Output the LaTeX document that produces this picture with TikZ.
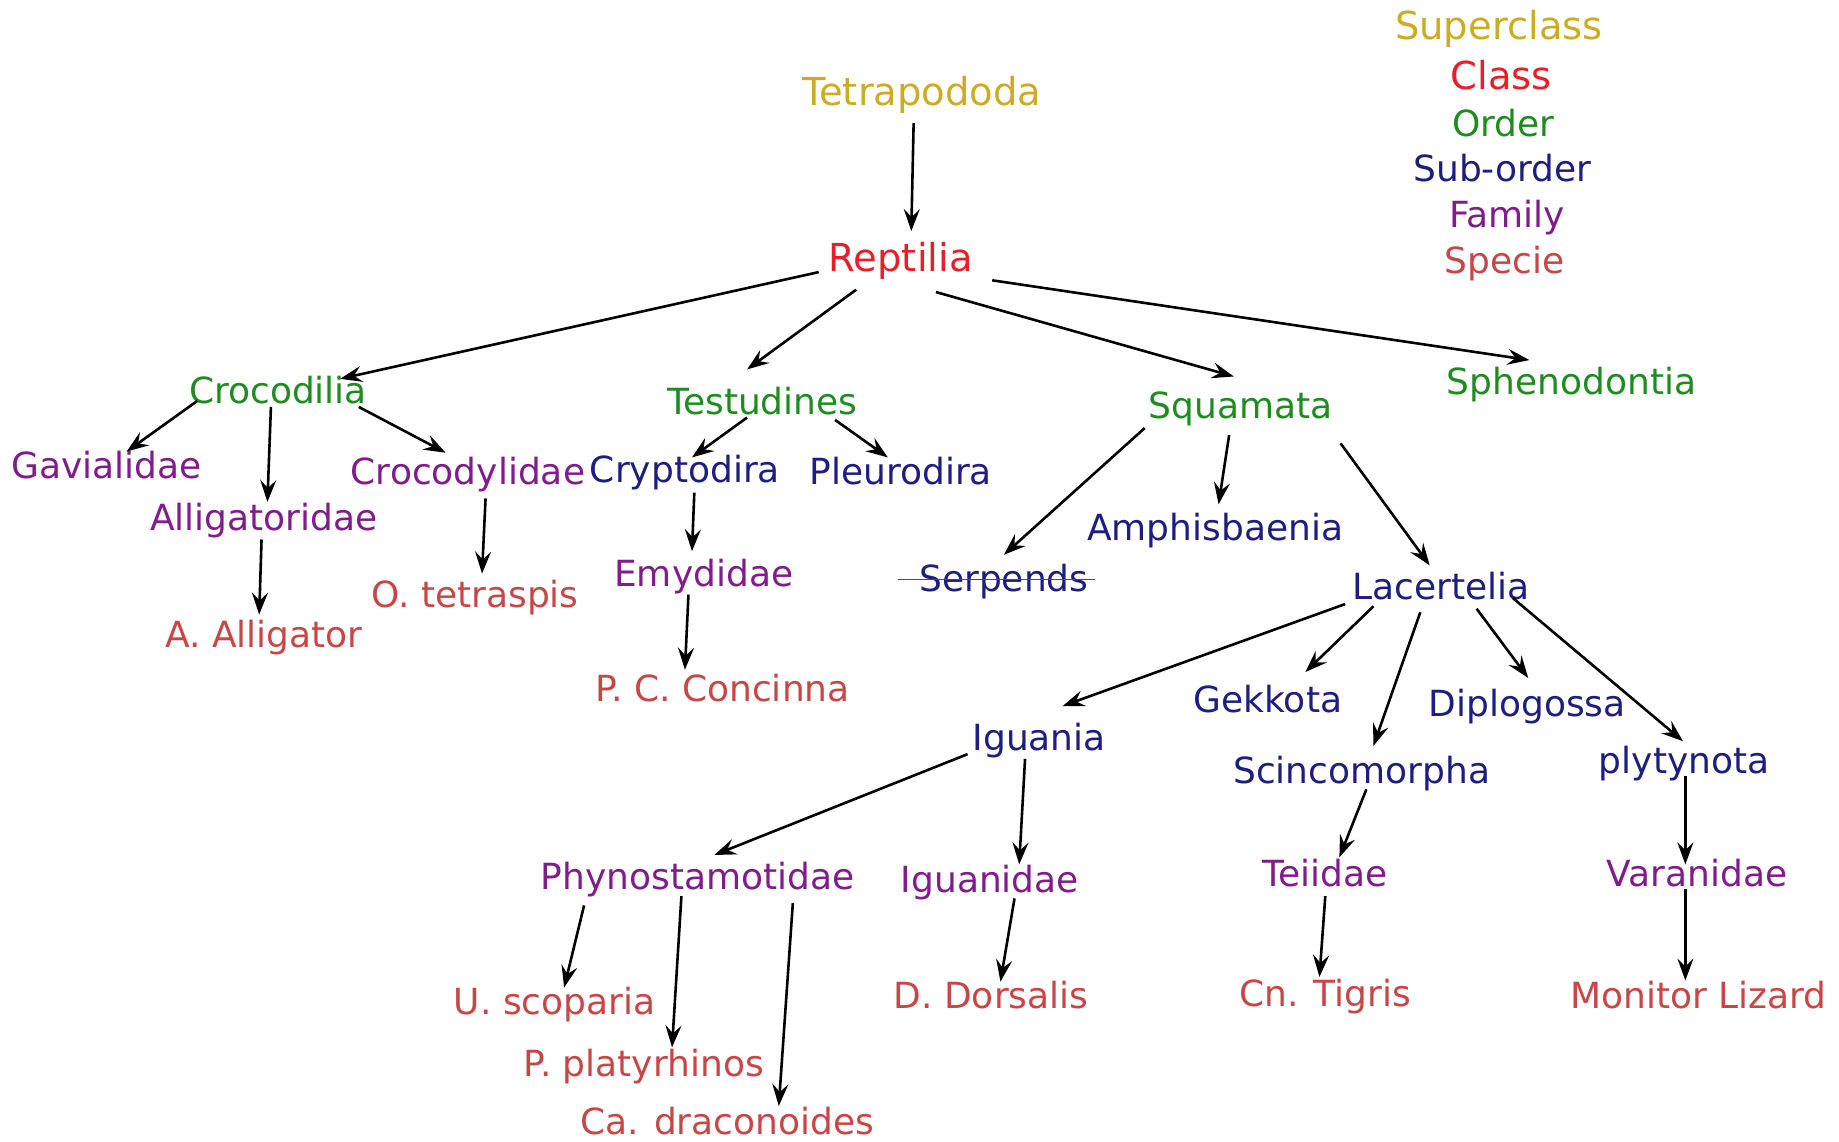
\documentclass[tikz,border=0pt]{standalone}
\usepackage{fontspec}
\setmainfont{DejaVu Sans}
\usetikzlibrary{arrows.meta,calc}
\definecolor{csuper}{RGB}{205,172,35}
\definecolor{cclass}{RGB}{232,30,40}
\definecolor{corder}{RGB}{30,140,30}
\definecolor{csub}{RGB}{30,30,130}
\definecolor{cfam}{RGB}{128,28,140}
\definecolor{cspec}{RGB}{200,70,70}
\tikzset{
  lbl/.style={inner sep=0pt, anchor=center, font=\fontsize{36pt}{40pt}\selectfont, text height=26pt, text depth=0pt},
  biglbl/.style={lbl, font=\fontsize{38.5pt}{42pt}\selectfont, text height=27.5pt},
  super/.style={biglbl, text=csuper},
  klass/.style={biglbl, text=cclass},
  ord/.style={lbl, text=corder},
  sub/.style={lbl, text=csub},
  fam/.style={lbl, text=cfam},
  spec/.style={lbl, text=cspec},
  arr/.style={-{Stealth[length=22pt,width=16pt,inset=8pt]}, line width=2.6pt, black},
}
\newcommand{\arrw}[6]{\draw[arr] ($(#1)+(#2,#3)$) -- ($(#4)+(#5,#6)$);}
\begin{document}
\begin{tikzpicture}[x=1.1728pt,y=-1.1728pt]
\useasboundingbox[fill=white] (0,0) rectangle (1568,973);
% legend
\node[super] (lsuper) at (1278,22) {Superclass};
\node[klass] (lclass) at (1280,65) {Class};
\node[ord]   (lorder) at (1282,105) {Order};
\node[sub]   (lsub)   at (1281,144) {Sub-order};
\node[fam]   (lfam)   at (1285,183) {Family};
\node[spec]  (lspec)  at (1283,222) {Specie};
% tree
\node[super] (tet) at (786,78) {Tetrapododa};
\node[klass] (rep) at (768,220) {Reptilia};
\node[ord] (cro) at (237,333) {Crocodilia};
\node[ord] (tes) at (650,342) {Testudines};
\node[ord] (squ) at (1058,346) {Squamata};
\node[ord] (sph) at (1340,325) {Sphenodontia};
\node[fam] (gav) at (91,397) {Gavialidae};
\node[fam] (all) at (225,441) {Alligatoridae};
\node[fam] (crd) at (399,402) {Crocodylidae};
\node[sub] (cry) at (584,400) {Cryptodira};
\node[sub] (ple) at (768,402) {Pleurodira};
\node[spec] (aal) at (225,541) {A. Alligator};
\node[spec] (ote) at (405,507) {O. tetraspis};
\node[fam] (emy) at (600,489) {Emydidae};
\node[spec] (pcc) at (616,587) {P. C. Concinna};
\node[sub] (ser) at (856,493) {Serpends};
\node[sub] (amp) at (1036,450) {Amphisbaenia};
\node[sub] (lac) at (1229,500) {Lacertelia};
\node[sub] (igu) at (886,629) {Iguania};
\node[sub] (gek) at (1081,596) {Gekkota};
\node[sub] (sci) at (1161,657) {Scincomorpha};
\node[sub] (dip) at (1302,600) {Diplogossa};
\node[sub] (ply) at (1436,648) {plytynota};
\node[fam] (phy) at (595,747) {Phynostamotidae};
\node[fam] (igd) at (844,750) {Iguanidae};
\node[fam] (tei) at (1130,745) {Teiidae};
\node[fam] (var) at (1447,745) {Varanidae};
\node[spec] (usc) at (473,854) {U. scoparia};
\node[spec] (ppl) at (549,907) {P. platyrhinos};
\node[spec] (cad) at (620,956) {Ca. draconoides};
\node[spec] (ddo) at (845,849) {D. Dorsalis};
\node[spec] (cnt) at (1130,847) {Cn. Tigris};
\node[spec] (mon) at (1448,849) {Monitor Lizard};
% strike line through Serpends
\draw[line width=1.2pt, black!70] ($(ser)+(-90,1)$) -- ($(ser)+(78,1)$);
% arrows
\arrw{tet}{-7}{27}{rep}{9}{-23}
\arrw{rep}{-70}{12}{cro}{53}{-10}
\arrw{rep}{-38}{27}{tes}{-13}{-27}
\arrw{rep}{30}{29}{squ}{-6}{-25}
\arrw{rep}{78}{19}{sph}{-36}{-18}
\arrw{cro}{-69}{9}{gav}{17}{-12}
\arrw{cro}{-6}{14}{all}{3}{-13}
\arrw{cro}{69}{14}{crd}{-19}{-16}
\arrw{all}{-2}{19}{aal}{-4}{-17}
\arrw{crd}{15}{23}{ote}{6}{-18}
\arrw{tes}{-13}{14}{cry}{6}{-10}
\arrw{tes}{62}{16}{ple}{-11}{-12}
\arrw{cry}{8}{20}{emy}{-10}{-19}
\arrw{emy}{-13}{18}{pcc}{-32}{-16}
\arrw{squ}{-82}{19}{ser}{0}{-20}
\arrw{squ}{-10}{25}{amp}{3}{-20}
\arrw{squ}{85}{32}{lac}{-10}{-18}
\arrw{lac}{-82}{15}{igu}{20}{-27}
\arrw{lac}{-58}{17}{gek}{32}{-23}
\arrw{lac}{-18}{22}{sci}{10}{-21}
\arrw{lac}{30}{19}{dip}{1}{-22}
\arrw{lac}{61}{10}{ply}{-1}{-16}
\arrw{igu}{-61}{14}{phy}{14}{-18}
\arrw{igu}{-12}{18}{igd}{25}{-13}
\arrw{sci}{4}{16}{tei}{12}{-14}
\arrw{ply}{1}{14}{var}{-10}{-8}
\arrw{phy}{-97}{25}{usc}{8}{-12}
\arrw{phy}{-14}{17}{ppl}{24}{-14}
\arrw{phy}{81}{23}{cad}{44}{-13}
\arrw{igd}{21}{16}{ddo}{8}{-12}
\arrw{tei}{0}{19}{cnt}{-5}{-14}
\arrw{var}{-10}{13}{mon}{-11}{-13}
\end{tikzpicture}
\end{document}
